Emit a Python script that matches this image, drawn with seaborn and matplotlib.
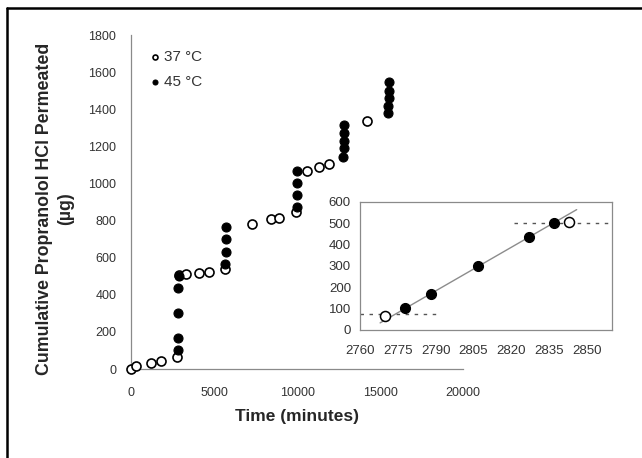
import numpy as np
import pandas as pd
import matplotlib
matplotlib.use("Agg")
import matplotlib.pyplot as plt
import seaborn as sns

# 37 C (open circles) - time in minutes, cumulative amount in ug
time_37 = [0, 250, 1200, 1800, 2770, 2843, 3300, 4100, 4700, 5650,
           7300, 8400, 8900, 9950, 10600, 11300, 11900, 14200]
amount_37 = [0, 15, 30, 45, 65, 505, 510, 518, 522, 540,
             780, 810, 815, 845, 1070, 1090, 1105, 1335]

# 45 C (filled circles), sampled during the heating pulses
time_45 = [2778, 2788, 2807, 2827, 2837,
           5660, 5675, 5690, 5705,
           9960, 9975, 9990, 10005,
           12790, 12800, 12810, 12820, 12830,
           15490, 15500, 15510, 15520, 15530]
amount_45 = [101, 167, 301, 436, 499,
             565, 630, 700, 765,
             875, 940, 1005, 1065,
             1145, 1190, 1230, 1275, 1315,
             1380, 1420, 1460, 1500, 1545]

# baselines shown in the inset (first pulse)
baseline_before = 73
baseline_after = 502

main_xticks = [0, 5000, 10000, 15000, 20000]
main_yticks = list(range(0, 1801, 200))
inset_xticks = [2760, 2775, 2790, 2805, 2820, 2835, 2850]
inset_yticks = list(range(0, 601, 100))

df37 = pd.DataFrame({"time": time_37, "amount": amount_37})
df45 = pd.DataFrame({"time": time_45, "amount": amount_45})

sns.set_style("white")
plt.rcParams["font.family"] = ["Liberation Sans", "DejaVu Sans"]

fig = plt.figure(figsize=(6.42, 4.58), dpi=100)

# Main plot
ax = fig.add_axes([0.2048, 0.1943, 0.5164, 0.729])
sns.scatterplot(data=df37, x="time", y="amount", ax=ax, marker="o", s=42,
                facecolor="white", edgecolor="black", linewidth=1.2,
                label="37 °C", clip_on=False, zorder=3)
sns.scatterplot(data=df45, x="time", y="amount", ax=ax, marker="o", s=42,
                color="black", edgecolor="black", linewidth=0.8,
                label="45 °C", clip_on=False, zorder=4)
ax.set_xlim(0, 20000)
ax.set_ylim(0, 1800)
ax.set_xticks(main_xticks)
ax.set_yticks(main_yticks)
for side in ["top", "right"]:
    ax.spines[side].set_visible(False)
for side in ["left", "bottom"]:
    ax.spines[side].set_color("#8a8a8a")
    ax.spines[side].set_linewidth(0.9)
ax.tick_params(direction="inout", length=6, width=0.8, color="#8a8a8a",
               labelsize=9, labelcolor="#333333")
ax.tick_params(axis="x", pad=10)
ax.tick_params(axis="y", pad=8)
ax.set_xlabel("Time (minutes)", fontweight="bold", fontsize=12.5)
ax.set_ylabel("Cumulative Propranolol HCl Permeated\n(µg)", fontweight="bold",
              fontsize=12.8, linespacing=1.35)
ax.xaxis.set_label_coords(0.5, -0.12)
ax.yaxis.set_label_coords(-0.172, 0.48)

leg = ax.legend(loc="upper left", bbox_to_anchor=(0.035, 0.975), frameon=False,
                fontsize=11, markerscale=0.55, handletextpad=0.15,
                handlelength=0.8, labelspacing=0.75, borderaxespad=0)
for t in leg.get_texts():
    t.set_color("#333333")

# Inset: first heating pulse
ax_in = fig.add_axes([0.5607, 0.2795, 0.3925, 0.2801])
first = df45[df45["time"] < 3000]
slope, intercept = np.polyfit(first["time"], first["amount"], 1)
fit_x = np.array([2768, 2846])
ax_in.plot(fit_x, slope * fit_x + intercept, color="#8c8c8c", lw=1, zorder=2)
ax_in.plot([2760, 2791], [baseline_before, baseline_before], color="#555555",
           lw=1, ls=(0, (2.5, 4)), zorder=2)
ax_in.plot([2821, 2860], [baseline_after, baseline_after], color="#555555",
           lw=1, ls=(0, (2.5, 4)), zorder=2)
sns.scatterplot(data=df37, x="time", y="amount", ax=ax_in, marker="o", s=52,
                facecolor="white", edgecolor="black", linewidth=1.1,
                legend=False, zorder=3)
sns.scatterplot(data=df45, x="time", y="amount", ax=ax_in, marker="o", s=52,
                color="black", edgecolor="black", linewidth=0.8,
                legend=False, zorder=4)
ax_in.set_xlim(2760, 2860)
ax_in.set_ylim(0, 600)
ax_in.set_xticks(inset_xticks)
ax_in.set_yticks(inset_yticks)
for side in ax_in.spines:
    ax_in.spines[side].set_color("#8a8a8a")
    ax_in.spines[side].set_linewidth(0.9)
ax_in.tick_params(direction="inout", length=5, width=0.8, color="#8a8a8a",
                  labelsize=9.5, labelcolor="#333333")
ax_in.tick_params(axis="x", pad=8)
ax_in.tick_params(axis="y", pad=4)
ax_in.set_xlabel("")
ax_in.set_ylabel("")

# page frame (left and top edges)
fig.add_artist(plt.Line2D([7 / 642, 7 / 642], [0, 1 - 8 / 458],
                          transform=fig.transFigure, color="black", lw=1.8))
fig.add_artist(plt.Line2D([7 / 642, 1], [1 - 8 / 458, 1 - 8 / 458],
                          transform=fig.transFigure, color="black", lw=1.8))

fig.savefig("out.png", dpi=100)
